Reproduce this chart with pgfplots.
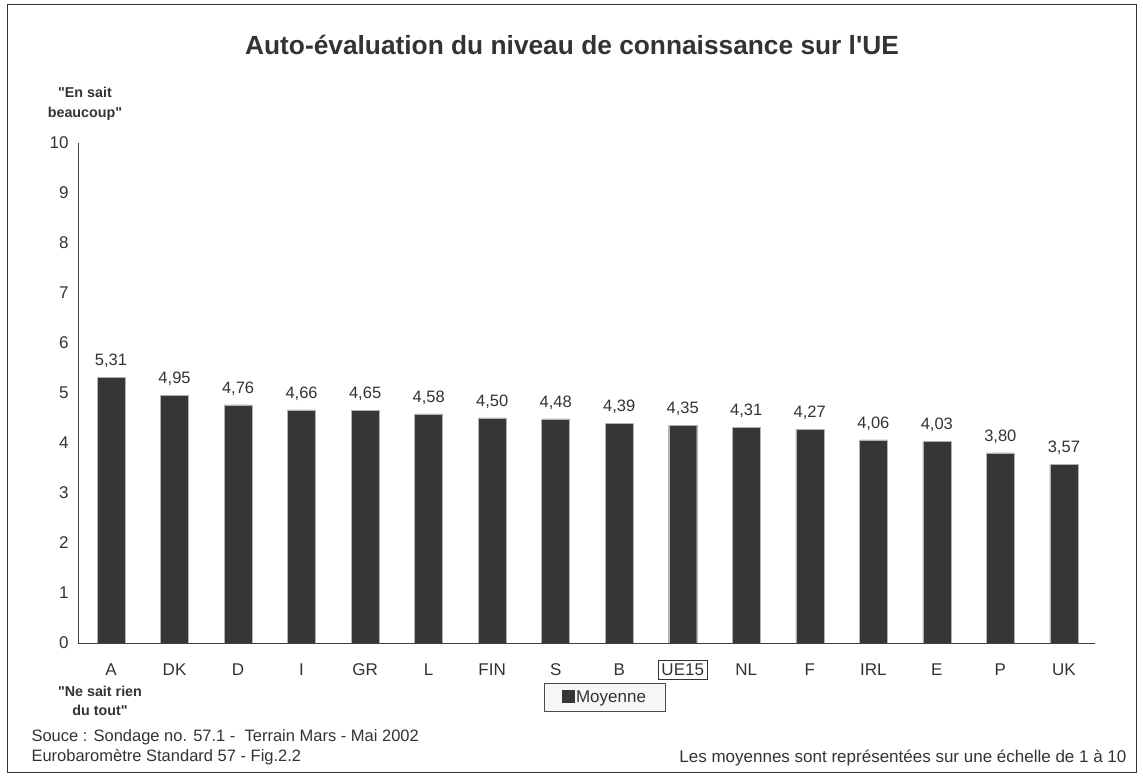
\documentclass[border=0pt]{standalone}
\usepackage{pgfplots}
\pgfplotsset{compat=1.18}
\usepackage{fontspec}
\setmainfont{Liberation Sans}
\definecolor{barcol}{HTML}{363638}
\definecolor{txt}{HTML}{333333}
\begin{document}
\begin{tikzpicture}[x=1pt,y=1pt]
% page extent and outer frame
\path (-78,-135) rectangle (1065,643);
\draw[line width=1pt, black!80] (-70,-130) rectangle (1058,638);
\begin{axis}[
  at={(0,0)}, anchor=south west,
  scale only axis, width=1017pt, height=500pt,
  xmin=-0.52, xmax=15.49, ymin=0, ymax=10,
  axis lines*=left,
  axis line style={-, draw=black!75, line width=0.9pt},
  ybar, bar width=28pt,
  xtick={0,...,15},
  xticklabels={A,DK,D,I,GR,L,FIN,S,B,{\setlength{\fboxsep}{3pt}\setlength{\fboxrule}{0.8pt}\fbox{UE15}},NL,F,IRL,E,P,UK},
  ytick={0,...,10},
  major tick length=0pt,
  /pgf/number format/assume math mode=true,
  tick label style={font=\fontsize{17}{20}\selectfont, text=txt},
  yticklabel style={xshift=-6pt},
  xticklabel style={yshift=-17pt, text height=12pt, text depth=3pt},
  nodes near coords={\pgfmathprintnumber[fixed,fixed zerofill,precision=2,use comma,assume math mode=true]{\pgfplotspointmeta}},
  every node near coord/.append style={font=\fontsize{16.5}{19}\selectfont, text=txt, yshift=6pt},
  legend style={at={(0.518,-0.108)}, anchor=center, draw=black!70, fill=black!3,
    font=\fontsize{17}{20}\selectfont, inner xsep=17pt, inner ysep=5.5pt, text=txt,
    nodes={inner xsep=2pt}},
  legend image code/.code={\fill[barcol] (2pt,-5.5pt) rectangle (14pt,6.5pt);},
]
\addplot[fill=barcol, draw=black!30] coordinates {
  (0,5.31) (1,4.95) (2,4.76) (3,4.66) (4,4.65) (5,4.58) (6,4.50) (7,4.48)
  (8,4.39) (9,4.35) (10,4.31) (11,4.27) (12,4.06) (13,4.03) (14,3.80) (15,3.57)};
\addlegendentry{Moyenne}
\end{axis}
\node[font=\bfseries\fontsize{26.3}{31}\selectfont, text=txt] at (494,598) {Auto-évaluation du niveau de connaissance sur l\textquotesingle UE};
\node[font=\bfseries\fontsize{14.3}{19.5}\selectfont, text=txt, align=center] at (7,539) {\textquotedbl En sait\\beaucoup\textquotedbl};
\node[font=\bfseries\fontsize{14.3}{19.5}\selectfont, text=txt, align=center] at (22,-58) {\textquotedbl Ne sait rien\\du tout\textquotedbl};
\node[font=\fontsize{16.5}{19.5}\selectfont, text=txt, align=left, anchor=west] at (-50,-104) {Souce : Sondage no. 57.1 -\ \ Terrain Mars - Mai 2002\\Eurobaromètre Standard 57 - Fig.2.2};
\node[font=\fontsize{17}{20}\selectfont, text=txt, anchor=east] at (1052,-115) {Les moyennes sont représentées sur une échelle de 1 à 10};
\end{tikzpicture}
\end{document}
